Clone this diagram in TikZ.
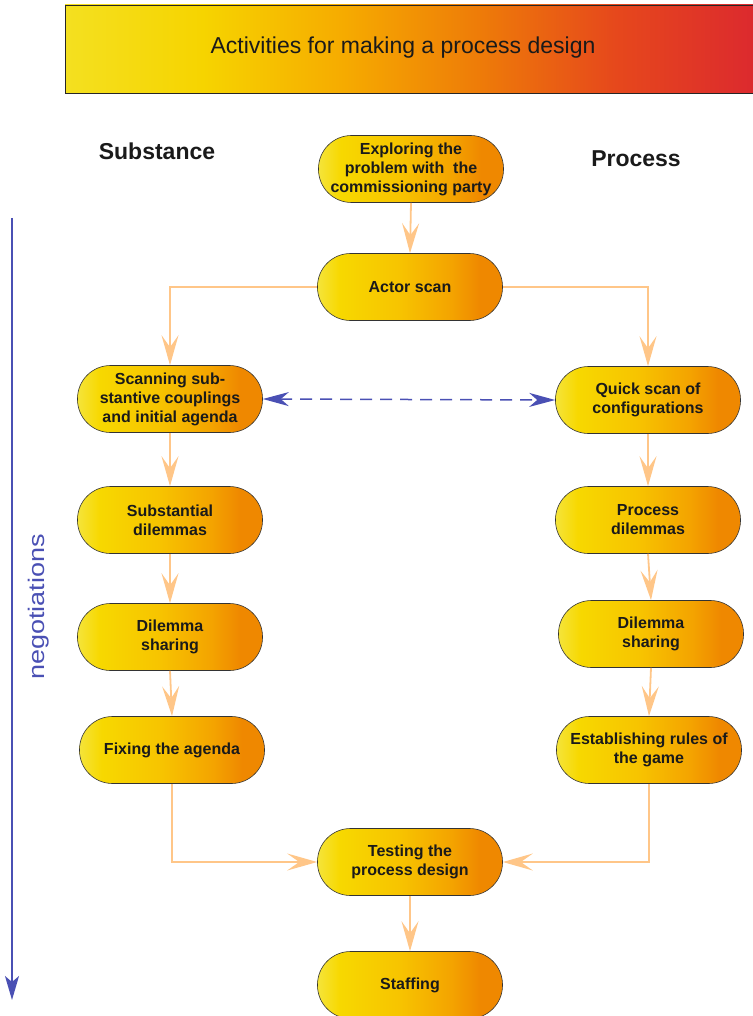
\documentclass[tikz,border=0pt]{standalone}
\usepackage{fontspec}
\setmainfont{Liberation Sans}
\usetikzlibrary{arrows.meta}
\definecolor{flow}{HTML}{FFC688}
\definecolor{neg}{HTML}{4A50B4}
\definecolor{txt}{HTML}{1A1A1A}
\definecolor{na}{HTML}{F5E43A}
\definecolor{nb}{HTML}{F7D800}
\definecolor{nc}{HTML}{F7C400}
\definecolor{nd}{HTML}{F4A400}
\definecolor{ne}{HTML}{EF8800}
\definecolor{ha}{HTML}{F4E020}
\definecolor{hb}{HTML}{F6D400}
\definecolor{hc}{HTML}{F6AC00}
\definecolor{hd}{HTML}{EE7C08}
\definecolor{he}{HTML}{E6481C}
\definecolor{hf}{HTML}{DC2A2E}
\pgfdeclarehorizontalshading{nodeshade}{100bp}{color(0bp)=(na); color(25bp)=(na); color(31bp)=(nb); color(47bp)=(nc); color(61bp)=(nd); color(69bp)=(ne); color(75bp)=(ne); color(100bp)=(ne)}
\pgfdeclarehorizontalshading{headshade}{100bp}{color(0bp)=(ha); color(25bp)=(ha); color(35bp)=(hb); color(45bp)=(hc); color(55bp)=(hd); color(65bp)=(he); color(75bp)=(hf); color(100bp)=(hf)}
\tikzset{
  act/.style={rectangle, rounded corners=33pt, draw=black!80, line width=0.6pt,
    shading=nodeshade, minimum width=185pt, minimum height=67pt,
    align=center, text=txt, font=\bfseries\fontsize{16}{19}\selectfont, inner sep=2pt},
  flowline/.style={draw=flow, line width=1.8pt, -{Stealth[length=30pt,width=17pt,inset=12pt]}},
  negline/.style={draw=neg, line width=1.6pt},
  side/.style={font=\bfseries\fontsize{23}{26}\selectfont, text=txt}
}
\begin{document}
\begin{tikzpicture}[x=1pt,y=-1pt]
\useasboundingbox (0,0) rectangle (752,1016);
% header
\path[shading=headshade, draw=black!85, line width=0.8pt] (65,5) rectangle (753,93);
\node[font=\fontsize{23}{26}\selectfont, text=txt] (title) at (403,48) {Activities for making a process design};
% side labels
\node[side] (subst) at (157,151) {Substance};
\node[side] (proc) at (636,159) {Process};
% nodes
\node[act] (explore) at (411,169) {Exploring the\\problem with\ \ the\\commissioning party};
\node[act] (actor) at (410,287) {Actor scan};
\node[act] (scan) at (170,399) {Scanning sub-\\stantive couplings\\and initial agenda};
\node[act] (quick) at (648,400) {Quick scan of\\configurations};
\node[act] (sdil) at (170,520) {Substantial\\dilemmas};
\node[act] (pdil) at (648,520) {Process\\dilemmas};
\node[act] (lshare) at (170,637) {Dilemma\\sharing};
\node[act] (rshare) at (651,634) {Dilemma\\sharing};
\node[act] (fix) at (172,750) {Fixing the agenda};
\node[act] (rules) at (649,750) {Establishing rules of\\the game};
\node[act] (test) at (410,862) {Testing the\\process design};
\node[act] (staff) at (410,985) {Staffing};
% connectors
\draw[flowline] (explore.south) -- (actor.north);
\draw[flowline] (actor.west) -| (scan.north);
\draw[flowline] (actor.east) -| (quick.north);
\draw[flowline] (scan.south) -- (sdil.north);
\draw[flowline] (sdil.south) -- (lshare.north);
\draw[flowline] (lshare.south) -- (fix.north);
\draw[flowline] (quick.south) -- (pdil.north);
\draw[flowline] (pdil.south) -- (rshare.north);
\draw[flowline] (rshare.south) -- (rules.north);
\draw[flowline] (fix.south) |- (test.west);
\draw[flowline] (rules.south) |- (test.east);
\draw[flowline] (test.south) -- (staff.north);
\draw[draw=neg, line width=1.5pt, dash pattern=on 12pt off 8pt,
  {Stealth[length=26pt,width=14pt,inset=8pt]}-{Stealth[length=26pt,width=14pt,inset=8pt]}] (scan.east) -- (quick.west);
% negotiations axis
\coordinate (ntop) at (12,218);
\coordinate (nbot) at (12,1000);
\draw[negline, -{Stealth[length=24pt,width=14pt,inset=6pt]}] (ntop) -- (nbot);
\node[rotate=90, text=neg, font=\fontsize{22.5}{24}\selectfont, inner sep=0pt] (negot) at (39,607) {\scalebox{1.2}[1]{negotiations}};
\end{tikzpicture}
\end{document}
